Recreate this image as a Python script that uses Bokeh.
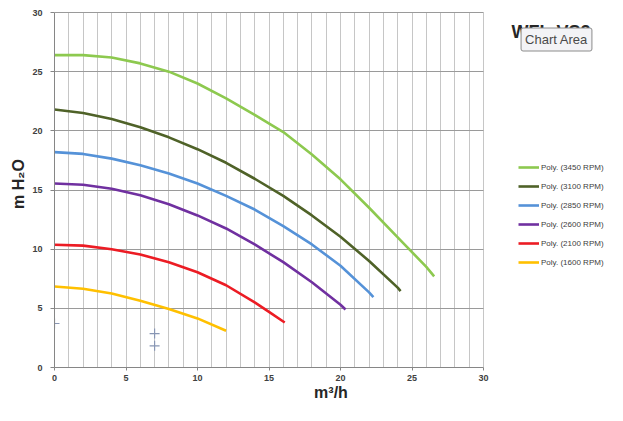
from bokeh.plotting import figure
from bokeh.models import FixedTicker, Label, Legend, LegendItem, Range1d
from bokeh.embed import file_html
from bokeh.resources import INLINE

# ---- data ----
q_3450 = [0, 2, 4, 6, 8, 10, 12, 14, 16, 18, 20, 22, 24, 26, 26.55]
h_3450 = [26.4, 26.4, 26.2, 25.7, 25.0, 24.0, 22.75, 21.35, 19.9, 18.0, 15.9, 13.5, 11.0, 8.5, 7.7]

q_3100 = [0, 2, 4, 6, 8, 10, 12, 14, 16, 18, 20, 22, 24, 24.2]
h_3100 = [21.8, 21.5, 21.0, 20.3, 19.45, 18.45, 17.3, 15.95, 14.5, 12.85, 11.05, 9.0, 6.75, 6.45]

q_2850 = [0, 2, 4, 6, 8, 10, 12, 14, 16, 18, 20, 22, 22.3]
h_2850 = [18.2, 18.05, 17.65, 17.1, 16.4, 15.55, 14.5, 13.35, 11.95, 10.4, 8.6, 6.35, 5.95]

q_2600 = [0, 2, 4, 6, 8, 10, 12, 14, 16, 18, 20, 20.35]
h_2600 = [15.55, 15.45, 15.1, 14.55, 13.8, 12.85, 11.75, 10.4, 8.9, 7.2, 5.3, 4.9]

q_2100 = [0, 2, 4, 6, 8, 10, 12, 14, 15, 16.1]
h_2100 = [10.37, 10.3, 10.0, 9.55, 8.9, 8.05, 6.95, 5.5, 4.7, 3.8]

q_1600 = [0, 2, 4, 6, 8, 10, 12]
h_1600 = [6.85, 6.65, 6.25, 5.65, 4.95, 4.15, 3.1]

cross_q = [0, 7, 7]
cross_h = [3.72, 2.87, 1.83]

series_names = ["Poly. (3450 RPM)", "Poly. (3100 RPM)", "Poly. (2850 RPM)",
                "Poly. (2600 RPM)", "Poly. (2100 RPM)", "Poly. (1600 RPM)"]
series_colors = ["#8dc94f", "#4f6228", "#5592d8", "#7030a0", "#ec1c24", "#ffc000"]
series_q = [q_3450, q_3100, q_2850, q_2600, q_2100, q_1600]
series_h = [h_3450, h_3100, h_2850, h_2600, h_2100, h_1600]

x_max, y_max = 30, 30
x_ticks = [0, 5, 10, 15, 20, 25, 30]
y_ticks = [0, 5, 10, 15, 20, 25, 30]
x_grid = list(range(0, 31))

title_text = "WFL-VS2"
tooltip_text = "Chart Area"
x_title = "m³/h"
y_title = "m H₂O"

# ---- layout geometry (pixels) ----
W, H = 607, 405
BL, BB = 54, 38            # left / bottom borders hold the axes
PLOT_W, PLOT_H = 429, 355  # pixel size of the 0..30 x 0..30 area
FW, FH = W - BL, H - BB    # frame extends to the right and top edges

p = figure(width=W, height=H, output_backend="svg", toolbar_location=None,
           x_range=Range1d(0, x_max * FW / PLOT_W), y_range=Range1d(0, y_max * FH / PLOT_H),
           min_border_left=BL, min_border_right=0, min_border_top=0, min_border_bottom=BB)
p.outline_line_color = None
p.background_fill_color = "white"
p.border_fill_color = "white"

for ax, tk, mx in ((p.xaxis[0], x_ticks, x_max), (p.yaxis[0], y_ticks, y_max)):
    ax.ticker = FixedTicker(ticks=tk)
    ax.bounds = (0, mx)
    ax.axis_line_color = "#868686"
    ax.major_tick_line_color = "#868686"
    ax.major_tick_in = 0
    ax.minor_tick_line_color = None
    ax.major_label_text_font = "Liberation Sans"
    ax.major_label_text_font_style = "bold"
    ax.major_label_text_font_size = "9px"
    ax.major_label_text_color = "#404040"
    ax.axis_label_text_font = "Liberation Sans"
    ax.axis_label_text_font_style = "bold"
    ax.axis_label_text_color = "#262626"
p.xaxis.major_tick_out = 3
p.xaxis.major_label_standoff = 4
p.yaxis.major_tick_out = 4
p.yaxis.major_label_standoff = 8
p.xaxis.axis_label = x_title
p.xaxis.axis_label_text_font_size = "16px"
p.xaxis.axis_label_standoff = 0
p.yaxis.axis_label = y_title
p.yaxis.axis_label_text_font_size = "16px"
p.yaxis.axis_label_standoff = 2

p.xgrid.ticker = FixedTicker(ticks=x_grid)
p.xgrid.bounds = (0, x_max)
p.xgrid.cross_bounds = (0, y_max)
p.xgrid.grid_line_color = "#c6c6c6"
p.ygrid.ticker = FixedTicker(ticks=y_ticks)
p.ygrid.bounds = (0, y_max)
p.ygrid.cross_bounds = (0, x_max)
p.ygrid.grid_line_color = "#9a9a9a"

items = []
for name, col, q, h in zip(series_names, series_colors, series_q, series_h):
    r = p.line(q, h, line_color=col, line_width=2.6)
    items.append(LegendItem(label=name, renderers=[r]))

p.scatter(cross_q, cross_h, marker="cross", size=10, line_color="#8896b4", line_width=1.2)

legend = Legend(items=items, location=(464, 96), orientation="vertical",
                glyph_width=21, glyph_height=18, label_height=18, spacing=1,
                label_standoff=2, padding=0, margin=0,
                border_line_color=None, background_fill_alpha=0,
                label_text_font="Liberation Sans",
                label_text_font_size="8px", label_text_color="#404040")
p.add_layout(legend, "center")

# chart title (partly hidden under the "Chart Area" tooltip, as in the screenshot)
p.add_layout(Label(x=457, y=336, x_units="screen", y_units="screen", text=title_text,
                   text_font="Liberation Sans", text_font_style="bold",
                   text_font_size="18px", text_color="#262626",
                   text_baseline="alphabetic", text_align="left"))
p.add_layout(Label(x=502, y=328, x_units="screen", y_units="screen", text=tooltip_text,
                   text_font="Liberation Sans", text_font_size="13px",
                   text_color="#4a4a4a", text_baseline="middle", text_align="center",
                   background_fill_color="#f3f3f6", border_line_color="#8c8c8c",
                   border_line_width=1, padding=4, border_radius=2))

open("out.html", "w").write(file_html(p, INLINE))
